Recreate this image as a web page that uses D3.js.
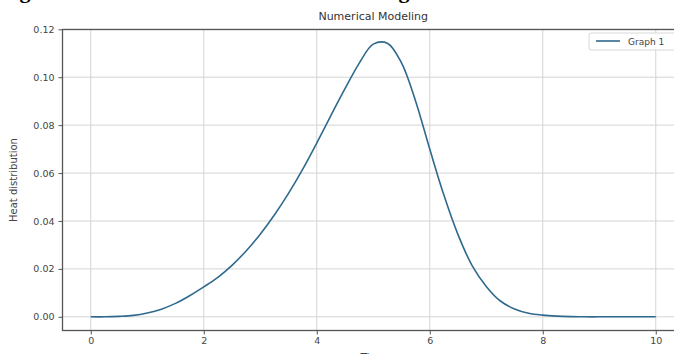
<!DOCTYPE html>
<html>
<head>
<meta charset="utf-8">
<script src="https://cdn.jsdelivr.net/npm/d3@7/dist/d3.min.js"></script>
<style>
  html, body { margin: 0; padding: 0; background: #fff; }
  svg { display: block; }
</style>
</head>
<body>
<svg id="chart" width="674" height="354"></svg>
<script>
// Sample positions along the horizontal axis
const xValues = [
  0, 0.25, 0.5, 0.75, 1, 1.25, 1.5, 1.75, 2, 2.25, 2.5, 2.75, 3, 3.25, 3.5, 3.75,
  4, 4.25, 4.5, 4.75, 5, 5.25, 5.5, 5.75, 6, 6.25, 6.5, 6.75, 7, 7.25, 7.5, 7.75,
  8, 8.25, 8.5, 8.75, 9, 9.25, 9.5, 9.75, 10
];
// Heat distribution values ("Graph 1")
const graph1 = [
  0.0000, 0.0000, 0.0002, 0.0006, 0.0016, 0.0032, 0.0056, 0.0088, 0.0125, 0.0165,
  0.0215, 0.0275, 0.0345, 0.0425, 0.0515, 0.0615, 0.0725, 0.0840, 0.0952, 0.1058,
  0.1138, 0.1142, 0.1060, 0.0900, 0.0700, 0.0508, 0.0343, 0.0214, 0.0127, 0.0066,
  0.0033, 0.0015, 0.0007, 0.0003, 0.0001, 0.0000, 0.0000, 0.0000, 0.0000, 0.0000,
  0.0000
];
const xTicks = [0, 2, 4, 6, 8, 10];
const yTicks = [0.00, 0.02, 0.04, 0.06, 0.08, 0.10, 0.12];
const seriesName = "Graph 1";
const titleText = "Numerical Modeling";
const xLabel = "Time";
const yLabel = "Heat distribution";
const captionText = "Figure 7. Results of the numerical modeling of heat distribution";

const svg = d3.select("#chart");
const plot = { left: 62.5, right: 684, top: 29.5, bottom: 330.5 };

// Axis limits with a 5% margin on each side of the data range
const xMin = d3.min(xValues), xMax = d3.max(xValues);
const yMin = d3.min(graph1), yMax = d3.max(graph1);
const xPad = (xMax - xMin) * 0.05, yPad = (yMax - yMin) * 0.05;

const x = d3.scaleLinear().domain([xMin - xPad, xMax + xPad]).range([plot.left, plot.right]);
const y = d3.scaleLinear().domain([yMin - yPad, yMax + yPad]).range([plot.bottom, plot.top]);

// Caption line of the page, mostly above the visible area
svg.append("text")
  .attr("x", 0).attr("y", -2)
  .attr("font-family", "Liberation Serif, Times New Roman, serif")
  .attr("font-weight", "bold")
  .attr("font-size", 22)
  .attr("fill", "#000")
  .text(captionText);

// Grid
const grid = svg.append("g").attr("stroke", "#d4d4d4").attr("stroke-width", 1);
grid.selectAll(".gx").data(xTicks).join("line")
  .attr("x1", d => x(d)).attr("x2", d => x(d))
  .attr("y1", plot.top).attr("y2", plot.bottom);
grid.selectAll(".gy").data(yTicks).join("line")
  .attr("x1", plot.left).attr("x2", plot.right)
  .attr("y1", d => y(d)).attr("y2", d => y(d));

// Curve
const line = d3.line()
  .x((d, i) => x(xValues[i]))
  .y(d => y(d))
  .curve(d3.curveCatmullRom.alpha(0.5));
svg.append("path")
  .datum(graph1)
  .attr("fill", "none")
  .attr("stroke", "#2f6a8e")
  .attr("stroke-width", 1.6)
  .attr("d", line);

// Axes
const fontFamily = "DejaVu Sans, sans-serif";
const xAxis = svg.append("g")
  .attr("transform", `translate(0,${plot.bottom})`)
  .call(d3.axisBottom(x).tickValues(xTicks).tickFormat(d3.format("d")).tickSize(4).tickPadding(3));
const yAxis = svg.append("g")
  .attr("transform", `translate(${plot.left},0)`)
  .call(d3.axisLeft(y).tickValues(yTicks).tickFormat(d3.format(".2f")).tickSize(4).tickPadding(4));
[xAxis, yAxis].forEach(a => {
  a.select(".domain").remove();
  a.selectAll("line").attr("stroke", "#555").attr("stroke-width", 1);
  a.selectAll("text").attr("fill", "#444").attr("font-family", fontFamily).attr("font-size", 9.5);
});

// Spines
svg.append("rect")
  .attr("x", plot.left).attr("y", plot.top)
  .attr("width", plot.right - plot.left).attr("height", plot.bottom - plot.top)
  .attr("fill", "none").attr("stroke", "#555").attr("stroke-width", 1.3);

// Title and axis labels
svg.append("text")
  .attr("x", (plot.left + plot.right) / 2).attr("y", 20)
  .attr("text-anchor", "middle")
  .attr("font-family", fontFamily).attr("font-size", 11).attr("fill", "#333")
  .text(titleText);
svg.append("text")
  .attr("x", (plot.left + plot.right) / 2).attr("y", 361)
  .attr("text-anchor", "middle")
  .attr("font-family", fontFamily).attr("font-size", 10.5).attr("fill", "#444")
  .text(xLabel);
svg.append("text")
  .attr("transform", `translate(17,${(plot.top + plot.bottom) / 2}) rotate(-90)`)
  .attr("text-anchor", "middle")
  .attr("font-family", fontFamily).attr("font-size", 10).attr("fill", "#444")
  .text(yLabel);

// Legend
const legend = svg.append("g");
legend.append("rect")
  .attr("x", 589).attr("y", 33).attr("width", 95).attr("height", 17).attr("rx", 2)
  .attr("fill", "#fff").attr("fill-opacity", 0.85)
  .attr("stroke", "#d8d8d8").attr("stroke-width", 1);
legend.append("line")
  .attr("x1", 596).attr("x2", 620).attr("y1", 41).attr("y2", 41)
  .attr("stroke", "#2f6a8e").attr("stroke-width", 1.6);
legend.append("text")
  .attr("x", 628).attr("y", 44.5)
  .attr("font-family", fontFamily).attr("font-size", 9).attr("fill", "#444")
  .text(seriesName);
</script>
</body>
</html>
